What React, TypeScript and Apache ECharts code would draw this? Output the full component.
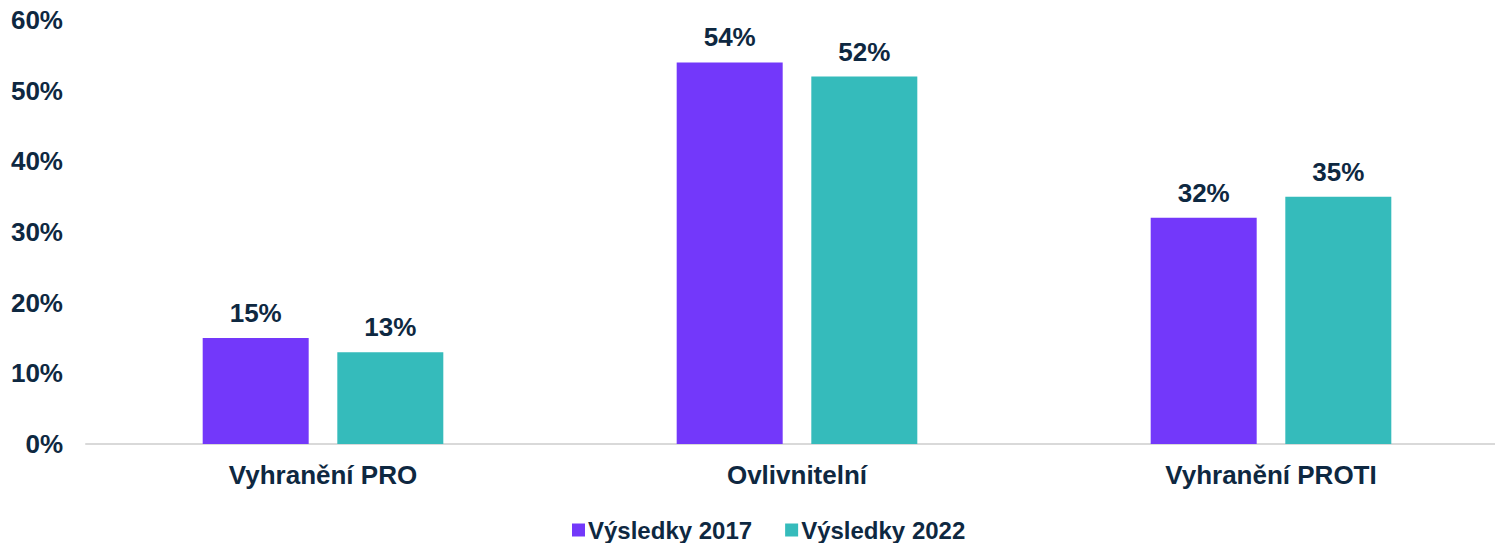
import React, { useEffect, useRef } from "react";
import * as echarts from "echarts";

const categories = ["Vyhranění PRO", "Ovlivnitelní", "Vyhranění PROTI"];
const series2017 = [15, 54, 32];
const series2022 = [13, 52, 35];
const seriesNames = ["Výsledky 2017", "Výsledky 2022"];
const yTicks = [0, 10, 20, 30, 40, 50, 60];

const TEXT = "#0E2841";
const FONT = "'Liberation Sans', Arial, sans-serif";

export default function App() {
  const ref = useRef<HTMLDivElement>(null);
  useEffect(() => {
    document.body.style.margin = "0";
    const chart = echarts.init(ref.current!, null, { renderer: "svg" });
    const label = {
      show: true,
      position: "top",
      distance: 12,
      formatter: "{c}%",
      color: TEXT,
      fontSize: 26,
      fontWeight: "bold",
      fontFamily: FONT,
    };
    chart.setOption({
      animation: false,
      textStyle: { fontFamily: FONT },
      grid: { left: 86, top: 20, width: 1422, height: 424, containLabel: false },
      legend: {
        left: 567,
        top: 513,
        itemWidth: 13,
        itemHeight: 13,
        itemGap: 33,
        icon: "rect",
        textStyle: { color: TEXT, fontSize: 24, fontWeight: "bold", fontFamily: FONT, padding: [0, 0, 0, -2] },
        data: seriesNames,
      },
      xAxis: {
        type: "category",
        data: categories,
        axisLine: { show: true, lineStyle: { color: "#d9d9d9", width: 2 } },
        axisTick: { show: false },
        axisLabel: { color: TEXT, fontSize: 26, fontWeight: "bold", fontFamily: FONT, margin: 18 },
      },
      yAxis: {
        type: "value",
        min: yTicks[0],
        max: yTicks[yTicks.length - 1],
        interval: 10,
        axisLine: { show: false },
        axisTick: { show: false },
        splitLine: { show: false },
        axisLabel: {
          color: TEXT,
          fontSize: 26,
          fontWeight: "bold",
          fontFamily: FONT,
          margin: 23,
          formatter: "{value}%",
        },
      },
      series: [
        {
          name: seriesNames[0],
          type: "bar",
          data: series2017,
          barWidth: 106,
          barGap: "27%",
          itemStyle: { color: "#7338FA" },
          label,
        },
        {
          name: seriesNames[1],
          type: "bar",
          data: series2022,
          barWidth: 106,
          barGap: "27%",
          itemStyle: { color: "#35BBBB" },
          label,
        },
      ],
    });
    return () => chart.dispose();
  }, []);
  return (
    <div style={{ width: 1495, height: 543, overflow: "hidden", position: "relative" }}>
      <div ref={ref} style={{ width: 1520, height: 543 }} />
    </div>
  );
}
